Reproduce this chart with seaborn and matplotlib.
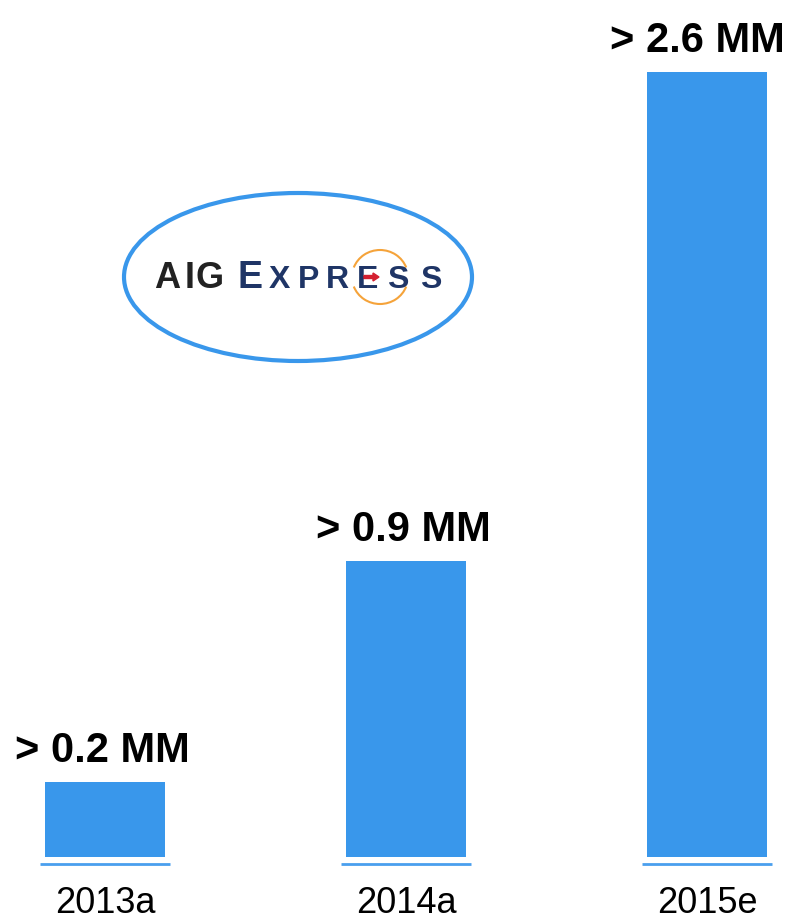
import matplotlib.pyplot as plt
import seaborn as sns
from matplotlib.patches import Ellipse, Arc, FancyArrow

# Data
categories = ['2013a', '2014a', '2015e']
values = [0.25, 0.98, 2.6]
value_labels = ['> 0.2 MM', '> 0.9 MM', '> 2.6 MM']

BAR_COLOR = '#3997EB'
LINE_COLOR = '#4A9FEE'

sns.set_style('white')
plt.rcParams['font.family'] = ['Liberation Sans', 'DejaVu Sans']

fig = plt.figure(figsize=(7.89, 9.2), dpi=100)
W, H = 789, 920

# Main bar axes (value 0 sits at pixel row 858)
ax = fig.add_axes([0, 62 / H, 1, 858 / H])
sns.barplot(x=categories, y=values, color=BAR_COLOR, width=0.4, saturation=1,
            linewidth=0, ax=ax)
ax.set_xlim(-105 / 301, 2 + 82 / 301)
ax.set_ylim(0, 858 / 302)
sns.despine(ax=ax, left=True, bottom=True)
ax.set_yticks([])
ax.set_xlabel('')
ax.set_ylabel('')
ax.tick_params(axis='x', length=0, pad=20, labelsize=26, labelcolor='black')

# thin base line under each bar
for i in range(len(categories)):
    ax.plot([i - 0.216, i + 0.216], [-0.023, -0.023], color=LINE_COLOR,
            lw=2, clip_on=False, solid_capstyle='butt')

# value labels
for i, (v, lab) in enumerate(zip(values, value_labels)):
    dx = -7 if i == len(values) - 1 else -2
    ax.annotate(lab, (i, v), xytext=(dx, 15), textcoords='offset points',
                ha='center', va='baseline', fontsize=30, fontweight='bold',
                color='black', annotation_clip=False)

# Logo overlay in pixel coordinates
lx = fig.add_axes([0, 0, 1, 1], facecolor='none')
lx.set_xlim(0, W)
lx.set_ylim(H, 0)
lx.axis('off')

lx.add_patch(Ellipse((298, 278), 348, 168, fill=False, ec=BAR_COLOR, lw=3))
lx.add_patch(Arc((380, 278), 56, 54, theta1=20, theta2=160, ec='#F5A33A', lw=1.5))
lx.add_patch(Arc((380, 278), 56, 54, theta1=200, theta2=340, ec='#F5A33A', lw=1.5))

for ch, cx in zip('AIG', [167, 190, 210]):
    lx.text(cx, 288, ch, ha='center', va='baseline', fontsize=26,
            fontweight='bold', color='#222222')
lx.text(250, 288, 'E', ha='center', va='baseline', fontsize=27,
        fontweight='bold', color='#1F3566')
for ch, cx in zip('XPRESS', [279, 309, 337, 368, 398, 431]):
    lx.text(cx, 288, ch, ha='center', va='baseline', fontsize=23,
            fontweight='bold', color='#1F3566')
lx.add_patch(FancyArrow(364, 278, 9, 0, width=3, head_width=8, head_length=6,
                        color='#D42030', zorder=5))

fig.savefig('out.png', dpi=100)
